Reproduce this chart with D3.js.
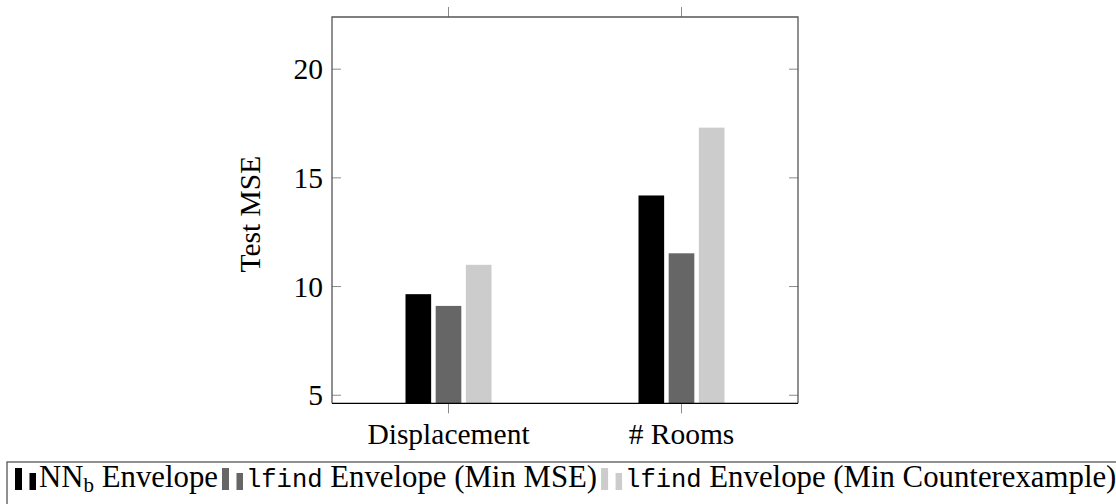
<!DOCTYPE html>
<html lang="en">
<head>
    <meta charset="UTF-8">
    <script src="https://cdn.jsdelivr.net/npm/d3@7"></script>
    <title>Test MSE</title>
    <style>
        body { margin: 0; background: white; }
        text { font-family: "Liberation Serif", "DejaVu Serif", serif; fill: black; }
        .mono { font-family: "Liberation Mono", "DejaVu Sans Mono", monospace; }
    </style>
</head>
<body>
<script>
    /*------------------- data --------------------*/
    const categories = ["Displacement", "# Rooms"];
    const series = ["NNb Envelope", "lfind Envelope (Min MSE)", "lfind Envelope (Min Counterexample)"];
    const seriesColors = ["#000000", "#666666", "#cccccc"];
    const nnValues = [9.65, 14.19];
    const minMseValues = [9.11, 11.53];
    const minCexValues = [11.0, 17.31];
    const yTicks = [5, 10, 15, 20];

    const allValues = [nnValues, minMseValues, minCexValues];

    /*------------------- layout --------------------*/
    const W = 1116, H = 504;
    const plot = { left: 332, right: 798, top: 17, bottom: 403.3 };
    const axisFont = "29.5px";
    const legendFont = "30.8px";

    const svg = d3.select("body").append("svg")
        .attr("width", W)
        .attr("height", H);

    const x = d3.scalePoint()
        .domain(categories)
        .range([plot.left, plot.right])
        .padding(0.5);

    const xInner = d3.scaleBand()
        .domain(series)
        .range([-43, 43])
        .paddingInner(0.15);

    const y = d3.scaleLinear()
        .domain([4.63, 22.4])
        .range([plot.bottom, plot.top]);

    /*------------------- bars --------------------*/
    series.forEach((s, i) => {
        svg.append("g").selectAll("rect")
            .data(categories)
            .enter()
            .append("rect")
            .attr("x", d => x(d) + xInner(s))
            .attr("width", xInner.bandwidth())
            .attr("y", (d, j) => y(allValues[i][j]))
            .attr("height", (d, j) => plot.bottom - y(allValues[i][j]))
            .attr("fill", seriesColors[i]);
    });

    /*------------------- axes --------------------*/
    const tickLen = 9;
    const tickColor = "#8a8a8a";

    // y ticks, inside on both sides
    yTicks.forEach(t => {
        svg.append("line")
            .attr("x1", plot.left).attr("x2", plot.left + tickLen)
            .attr("y1", y(t)).attr("y2", y(t))
            .attr("stroke", tickColor).attr("stroke-width", 1);
        svg.append("line")
            .attr("x1", plot.right - tickLen).attr("x2", plot.right)
            .attr("y1", y(t)).attr("y2", y(t))
            .attr("stroke", tickColor).attr("stroke-width", 1);
        svg.append("text")
            .attr("x", plot.left - 9)
            .attr("y", y(t))
            .attr("dy", "0.34em")
            .attr("text-anchor", "end")
            .style("font-size", axisFont)
            .text(t);
    });

    // x ticks, outside top and bottom
    categories.forEach(c => {
        svg.append("line")
            .attr("x1", x(c)).attr("x2", x(c))
            .attr("y1", plot.bottom).attr("y2", plot.bottom + 10)
            .attr("stroke", tickColor).attr("stroke-width", 1);
        svg.append("line")
            .attr("x1", x(c)).attr("x2", x(c))
            .attr("y1", plot.top).attr("y2", plot.top - 10)
            .attr("stroke", tickColor).attr("stroke-width", 1);
        svg.append("text")
            .attr("x", x(c))
            .attr("y", 444)
            .attr("text-anchor", "middle")
            .style("font-size", axisFont)
            .text(c);
    });

    // frame
    svg.append("path")
        .attr("d", `M${plot.left},${plot.bottom}V${plot.top}H${plot.right}V${plot.bottom}`)
        .attr("fill", "none")
        .attr("stroke", "#555")
        .attr("stroke-width", 1.3);
    svg.append("line")
        .attr("x1", plot.left).attr("x2", plot.right)
        .attr("y1", plot.bottom).attr("y2", plot.bottom)
        .attr("stroke", "black").attr("stroke-width", 1.3);

    // y label
    svg.append("text")
        .attr("transform", `translate(260, ${(plot.top + plot.bottom) / 2 + 4}) rotate(-90)`)
        .attr("text-anchor", "middle")
        .style("font-size", axisFont)
        .text("Test MSE");

    /*------------------- legend --------------------*/
    const legendTop = 462;
    svg.append("rect")
        .attr("x", 7).attr("y", legendTop)
        .attr("width", W + 10).attr("height", 60)
        .attr("fill", "none")
        .attr("stroke", "#555")
        .attr("stroke-width", 1.3);

    const legend = svg.append("g");
    let cx = 15;
    const baseY = 487;
    series.forEach((s, i) => {
        legend.append("rect")
            .attr("x", cx).attr("y", 468)
            .attr("width", 7).attr("height", 22)
            .attr("fill", seriesColors[i]);
        legend.append("rect")
            .attr("x", cx + 14.5).attr("y", 473)
            .attr("width", 6.5).attr("height", 17)
            .attr("fill", seriesColors[i]);
        cx += 24;
        const t = legend.append("text")
            .attr("x", cx)
            .attr("y", baseY)
            .style("font-size", legendFont);
        if (i === 0) {
            t.append("tspan").text("NN");
            t.append("tspan").attr("dy", 5).style("font-size", "21px").text("b");
            t.append("tspan").attr("dy", -5).text(" Envelope");
        } else {
            const parts = s.split(" ");
            t.append("tspan").attr("class", "mono")
                .style("font-size", "25.5px")
                .text(parts[0]);
            t.append("tspan").text(" " + parts.slice(1).join(" "));
        }
        cx += t.node().getComputedTextLength() + 4;
    });
</script>
</body>
</html>
